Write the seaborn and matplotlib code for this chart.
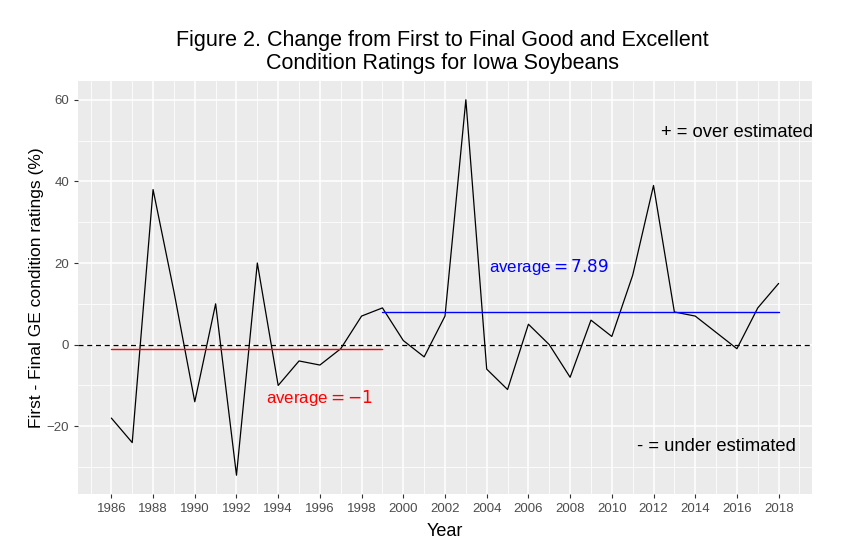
import numpy as np
import pandas as pd
import matplotlib.pyplot as plt
from matplotlib.ticker import MultipleLocator
import seaborn as sns

years = list(range(1986, 2019))
change = [-18, -24, 38, 13, -14, 10, -32, 20, -10, -4, -5, -1, 7, 9,
          1, -3, 7, 60, -6, -11, 5, 0, -8, 6, 2, 17, 39, 8, 7, 3, -1, 9, 15]
early_span = [1986, 1999]
late_span = [1999, 2018]
early_avg = -1
late_avg = 7.89

df = pd.DataFrame({'Year': years, 'change': change})

sns.set_theme(style='darkgrid', rc={'axes.facecolor': '#EBEBEB', 'grid.color': 'white',
                                    'text.color': 'black', 'axes.labelcolor': 'black'})
plt.rcParams['font.family'] = ['Liberation Sans', 'DejaVu Sans']

fig = plt.figure(figsize=(8.47, 5.44), dpi=100)
ax = fig.add_axes([78 / 847, 1 - 494 / 544, 734 / 847, 413 / 544])

sns.lineplot(data=df, x='Year', y='change', color='black', linewidth=0.9, ax=ax)
ax.axhline(0, color='black', linestyle=(0, (4, 3)), linewidth=0.9)
ax.plot(early_span, [early_avg, early_avg], color='#FF0000', linewidth=1.0)
ax.plot(late_span, [late_avg, late_avg], color='#0000FF', linewidth=1.0)

ax.text(1996, -13, 'average$=-1$', color='#FF0000', fontsize=12.2, ha='center', va='center')
ax.text(2007, 19, 'average$=7.89$', color='#0000FF', fontsize=12.2, ha='center', va='center')
ax.text(2016, 52, '+ = over estimated', color='black', fontsize=13.2, ha='center', va='center')
ax.text(2015, -25, '- = under estimated', color='black', fontsize=13.2, ha='center', va='center')

ax.set_xlim(1984.4, 2019.6)
ax.set_ylim(-36.6, 64.6)
ax.set_xticks(range(1986, 2019, 2))
ax.set_yticks([-20, 0, 20, 40, 60])
ax.xaxis.set_minor_locator(MultipleLocator(1))
ax.yaxis.set_minor_locator(MultipleLocator(10))
ax.grid(which='major', color='white', linewidth=1.1)
ax.grid(which='minor', color='white', linewidth=0.55)
ax.tick_params(axis='both', which='major', labelsize=9.5, labelcolor='#4D4D4D',
               length=3, width=0.8, color='#333333', bottom=True, left=True)
ax.tick_params(axis='both', which='minor', length=0)
for s in ax.spines.values():
    s.set_visible(False)

ax.set_xlabel('Year', fontsize=13, labelpad=6, color='black')
ax.set_ylabel('First - Final GE condition ratings (%)', fontsize=12.5, labelpad=2, color='black')
fig.text(442 / 847, 1 - 52 / 544,
         'Figure 2. Change from First to Final Good and Excellent\nCondition Ratings for Iowa Soybeans',
         ha='center', va='center', fontsize=15.5, linespacing=1.1, color='black')

fig.savefig('out.png', dpi=100)
